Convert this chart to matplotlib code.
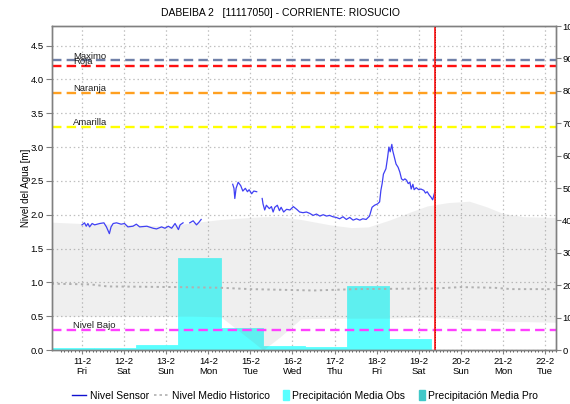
import numpy as np
import matplotlib
matplotlib.use("Agg")
import matplotlib.pyplot as plt
import matplotlib.transforms as mtransforms
from matplotlib.lines import Line2D
from matplotlib.patches import Patch, Rectangle
from matplotlib.legend_handler import HandlerPatch

plt.rcParams['font.family'] = ['Liberation Sans', 'DejaVu Sans']

# ---------------- data ----------------
title = "DABEIBA 2   [11117050] - CORRIENTE: RIOSUCIO"

tick_days = [11, 12, 13, 14, 15, 16, 17, 18, 19, 20, 21, 22]
tick_labels = ["11-2\nFri", "12-2\nSat", "13-2\nSun", "14-2\nMon", "15-2\nTue", "16-2\nWed",
               "17-2\nThu", "18-2\nFri", "19-2\nSat", "20-2\nSun", "21-2\nMon", "22-2\nTue"]

sensor_day = [11.00, 11.06, 11.10, 11.14, 11.18, 11.24, 11.30, 11.42, 11.52, 11.58, 11.65, 11.69,
              11.74, 11.82, 11.93, 12.01, 12.09, 12.21, 12.29, 12.37, 12.54, 12.69, 12.77, 12.89,
              12.97, 13.05, 13.13, 13.21, 13.29, 13.33, 13.40,
              13.48,
              13.56, 13.64, 13.72, 13.78, 13.83,
              14.20,
              14.58, 14.61, 14.63, 14.66, 14.71, 14.77, 14.82, 14.88, 14.93, 14.97, 15.03, 15.08, 15.15,
              15.22,
              15.28, 15.30, 15.34, 15.38, 15.45, 15.50, 15.54, 15.58, 15.64, 15.69, 15.73, 15.79,
              15.86, 15.94, 16.02, 16.10, 16.17, 16.25, 16.33, 16.41, 16.49, 16.57, 16.65, 16.73,
              16.81, 16.88, 16.96, 17.04, 17.12, 17.20, 17.28, 17.36, 17.44, 17.52, 17.60, 17.67,
              17.75, 17.83, 17.89, 17.95, 18.02, 18.07, 18.10, 18.13, 18.16, 18.22, 18.26, 18.29,
              18.32, 18.36, 18.38, 18.42, 18.46, 18.51, 18.55, 18.59, 18.63, 18.67, 18.71, 18.75,
              18.79, 18.82, 18.86, 18.89, 18.94, 19.00, 19.05, 19.12, 19.16, 19.20, 19.25, 19.29,
              19.33, 19.36, 19.39]
sensor_level = [1.85, 1.88, 1.83, 1.87, 1.82, 1.87, 1.85, 1.87, 1.88, 1.82, 1.72, 1.82,
                1.87, 1.88, 1.86, 1.87, 1.82, 1.83, 1.86, 1.82, 1.83, 1.80, 1.79, 1.82,
                1.80, 1.83, 1.80, 1.87, 1.78, 1.85, 1.88,
                np.nan,
                1.88, 1.91, 1.85, 1.89, 1.93,
                np.nan,
                2.45, 2.39, 2.24, 2.39, 2.48, 2.43, 2.35, 2.39, 2.34, 2.37, 2.31, 2.35, 2.34,
                np.nan,
                2.24, 2.16, 2.07, 2.14, 2.09, 2.12, 2.04, 2.11, 2.14, 2.06, 2.11, 2.04,
                2.08, 2.07, 2.12, 2.08, 2.04, 2.03, 2.04, 2.02, 1.99, 2.01, 1.98, 2.00,
                1.98, 1.99, 1.97, 1.96, 1.94, 1.97, 1.93, 1.96, 1.92, 1.94, 1.92, 1.94,
                1.93, 1.98, 2.11, 2.14, 2.16, 2.19, 2.36, 2.46, 2.60, 2.68, 2.85, 3.00,
                2.93, 3.04, 2.95, 2.85, 2.75, 2.70, 2.63, 2.53, 2.51, 2.53, 2.51, 2.46,
                2.48, 2.38, 2.45, 2.37, 2.40, 2.37, 2.38, 2.36, 2.32, 2.34, 2.29, 2.26,
                2.22, 2.29, 2.36]

band_day = [10.28, 11.0, 12.0, 13.0, 13.6, 14.3, 15.0, 15.3, 15.7, 16.2, 16.9, 17.4, 17.8,
            18.3, 18.8, 19.2, 19.7, 20.2, 20.6, 21.0, 21.5, 22.26]
band_upper = [1.89, 1.87, 1.86, 1.83, 1.88, 1.93, 1.96, 1.97, 1.97, 1.93, 1.85, 1.81, 1.82,
              1.92, 2.04, 2.13, 2.18, 2.20, 2.12, 2.02, 1.97, 1.96]
band_lower = [0.50, 0.50, 0.50, 0.50, 0.50, 0.49, 0.15, 0.00, 0.19, 0.46, 0.47, 0.47, 0.47,
              0.47, 0.48, 0.48, 0.47, 0.45, 0.44, 0.42, 0.42, 0.41]

mean_day = [10.28, 11.2, 11.6, 13.3, 14.3, 15.0, 16.5, 17.5, 19.4, 20.0, 20.8, 21.2, 22.26]
mean_level = [0.98, 0.97, 0.94, 0.93, 0.92, 0.90, 0.88, 0.90, 0.91, 0.93, 0.92, 0.90, 0.90]

precip_day = [10, 11, 12, 13, 14, 15, 16, 17, 18]
precip_obs = [0.5, 0.7, 1.5, 28.3, 6.7, 1.2, 0.8, 19.8, 3.4]

threshold_names = ["Maximo", "Roja", "Naranja", "Amarilla", "Nivel Bajo"]
threshold_values = [4.28, 4.20, 3.80, 3.30, 0.30]
threshold_colors = ["#7080a8", "#ff1010", "#ffa020", "#ffff00", "#ff40ff"]

now_day = 19.39

# ---------------- figure ----------------
W, H = 570, 404
fig = plt.figure(figsize=(W / 100, H / 100), dpi=100)
ax = fig.add_axes([52 / W, 1 - 350 / H, (556 - 52) / W, (350 - 26) / H])
ax2 = ax.twinx()

ax.set_xlim(10.287, 22.26)
ax.set_ylim(0, 4.79)
ax2.set_ylim(0, 100)

spine_col = "#808080"
for a in (ax, ax2):
    for s in a.spines.values():
        s.set_color(spine_col)
        s.set_linewidth(1.0)

# grid
ax.set_axisbelow(True)
ax.grid(True, color="#c0c0c0", linestyle=(0, (1.2, 2.2)), linewidth=0.9)

# precipitation bars (right axis scale), drawn in ax so the band tints them
bar_trans = mtransforms.blended_transform_factory(ax.transData, ax2.transData)
ax.bar(np.array(precip_day) + 7 / 24, precip_obs, width=1.0, align='edge',
       color="#5affff", edgecolor="#5affff", linewidth=0.6, transform=bar_trans, zorder=1)

# historical band
ax.fill_between(band_day, band_lower, band_upper, color="#808080", alpha=0.12,
                linewidth=0, zorder=1.5)

# mean historic
ax.plot(mean_day, mean_level, color="#b0b0b0", linestyle=(0, (1.2, 1.8)), linewidth=1.4, zorder=2)

# thresholds
lab_trans = mtransforms.blended_transform_factory(ax.transAxes, ax.transData)
for name, val, col in zip(threshold_names, threshold_values, threshold_colors):
    ax.axhline(val, color=col, linestyle=(0, (4, 2.2)), linewidth=1.7, zorder=2.2)
    ax.text(0.042, val + 0.025, name, transform=lab_trans, fontsize=6.8,
            ha='left', va='baseline', color="#202020", zorder=3)

# sensor
ax.plot(sensor_day, sensor_level, color="#4040f4", linewidth=0.9, zorder=3)

# now line
ax.axvline(now_day, color="#ff2020", linewidth=1.3, zorder=3.5)
ax.axvline(now_day, color="#900000", linewidth=0.6, linestyle=(0, (1, 2)), zorder=3.6)

# ticks
ax.set_xticks(tick_days)
ax.set_xticklabels(tick_labels, fontsize=6.8, linespacing=1.15)
ax.set_xticks(np.arange(10.5, 22.26, 1 / 12), minor=True)
ax.tick_params(axis='x', which='major', length=3, color=spine_col, pad=2)
ax.tick_params(axis='x', which='minor', length=1.5, color="#404040", width=0.6)
ax.set_yticks(np.arange(0, 4.6, 0.5))
ax.set_yticklabels([f"{v:.1f}" for v in np.arange(0, 4.6, 0.5)], fontsize=6.8)
ax.tick_params(axis='y', length=4, color=spine_col, pad=2)
ax2.set_yticks(np.arange(0, 101, 10))
ax2.set_yticklabels([str(v) for v in range(0, 101, 10)], fontsize=6.8)
ax2.tick_params(axis='y', length=3.5, color=spine_col, pad=1)

ax.set_ylabel("Nivel del Agua [m]", fontsize=7)
ax.yaxis.set_label_coords(-0.042, 0.5)

fig.text(0.492, 1 - 13.5 / H, title, ha='center', va='center', fontsize=7.5)

# legend
def narrow_patch(legend, orig_handle, xdescent, ydescent, width, height, fontsize):
    w = height * 0.75
    return Rectangle((-xdescent + width - w, -ydescent - 1.0), w, height + 2.0)

handles = [Line2D([], [], color="#1010d0", linewidth=1.0),
           Line2D([], [], color="#b0b0b0", linestyle=(0, (1.5, 1.8)), linewidth=1.2),
           Patch(facecolor="#5affff", edgecolor="#5affff"),
           Patch(facecolor="#40c8c8", edgecolor="#40c8c8")]
labels = ["Nivel Sensor", "Nivel Medio Historico", "Precipitación Media Obs", "Precipitación Media Pro"]
fig.legend(handles, labels, loc='center', bbox_to_anchor=(305 / W, 1 - 396 / H), ncol=4,
           frameon=False, fontsize=7.5, handlelength=1.35, handletextpad=0.35, columnspacing=0.5,
           handler_map={Patch: HandlerPatch(patch_func=narrow_patch)})

fig.savefig("out.png", dpi=100)
